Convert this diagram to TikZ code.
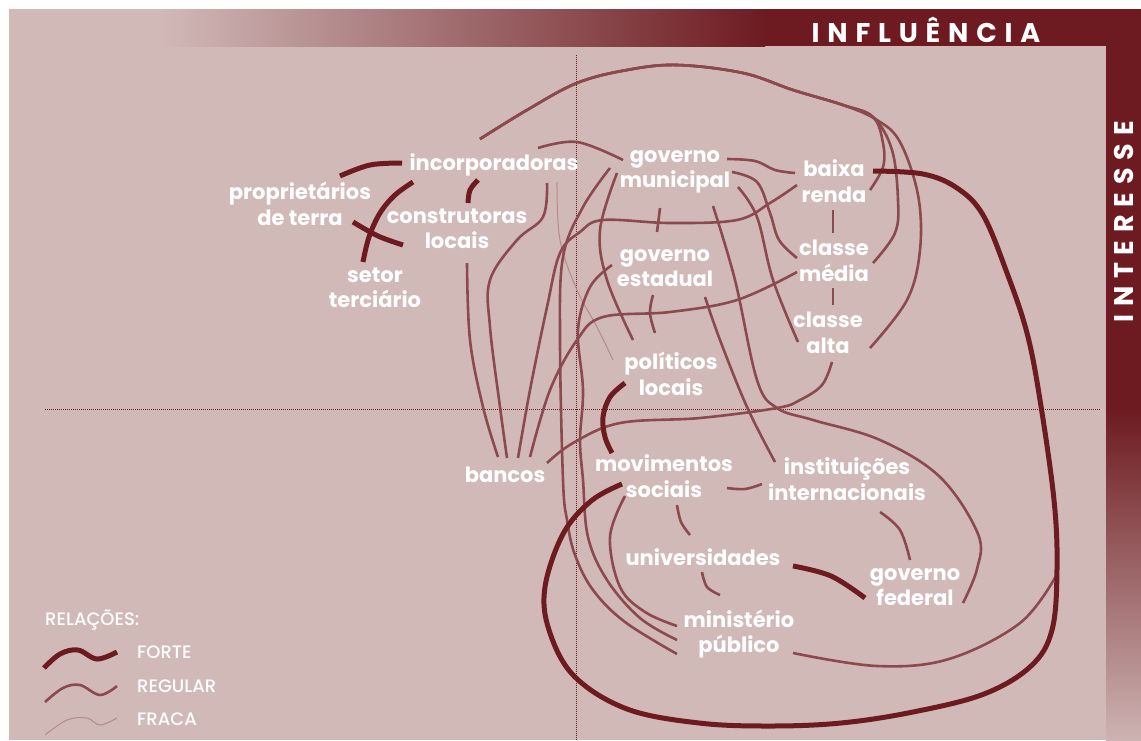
\documentclass[tikz,border=0pt]{standalone}
\usepackage{fontspec}
\setmainfont{Poppins}
\newfontfamily\legendfont{Poppins Medium}
\newfontfamily\axisfont{Poppins Bold}[LetterSpace=29]
\usetikzlibrary{calc}
\definecolor{panel}{HTML}{D1B9B8}
\definecolor{wine}{HTML}{6D1B21}
\definecolor{rose}{HTML}{8C4A4F}
\definecolor{faint}{HTML}{B48A8A}
\pgfdeclarelayer{bg}
\pgfdeclarelayer{links}
\pgfsetlayers{bg,links,main}
\tikzset{
  actor/.style={text=white, font=\fontsize{21}{25.5}\selectfont\bfseries, align=center, inner sep=0pt},
  legtext/.style={text=white, font=\legendfont\fontsize{18}{18}\selectfont, inner sep=0pt, anchor=west},
  axislabel/.style={text=white, font=\axisfont\fontsize{27}{27}\selectfont, inner sep=0pt},
  strong/.style={draw=wine, line width=5pt},
  regular/.style={draw=rose, line width=2.6pt},
  weak/.style={draw=faint, line width=1pt},
  guide/.style={draw=wine, line width=0.7pt, dash pattern=on 0.7pt off 1.3pt},
  sm/.style={smooth, tension=0.6}
}
\begin{document}
\begin{tikzpicture}[x=1pt, y=-1pt]
\useasboundingbox (0,0) rectangle (1141,740);

% frame, bars and guides
\begin{pgfonlayer}{bg}
  \fill[white] (0,0) rectangle (1141,740);
  \fill[panel] (9,9) rectangle (1141,740);
  \shade[left color=panel, right color=wine] (160,9) rectangle (765,46);
  \fill[wine] (764,9) rectangle (1141,46);
  \fill[wine] (1106,9) rectangle (1141,411);
  \shade[top color=wine, bottom color=panel!96!wine] (1106,410) rectangle (1141,740);
  \draw[guide] (576,55) -- (576,740);
  \draw[guide] (45,409) -- (1100,409);
\end{pgfonlayer}

\node[axislabel] (influencia) at (926,30) {INFLUÊNCIA};
\node[axislabel, rotate=90] (interesse) at (1124,222) {INTERESSE};

% actors
\node[actor] (inc) at (494,165) {incorporadoras};
\node[actor] (pro) at (300,204) {proprietários\\de terra};
\node[actor] (con) at (457,229) {construtoras\\locais};
\node[actor] (set) at (375,288) {setor\\terciário};
\node[actor] (gmu) at (675,172) {governo\\municipal};
\node[actor] (bai) at (834,181) {baixa\\renda};
\node[actor] (ges) at (665,268) {governo\\estadual};
\node[actor] (cme) at (834,261) {classe\\média};
\node[actor] (cal) at (828,333) {classe\\alta};
\node[actor] (pol) at (671,374) {políticos\\locais};
\node[actor] (ban) at (505,475) {bancos};
\node[actor] (mov) at (664,476) {movimentos\\sociais};
\node[actor] (ins) at (847,479) {instituições\\internacionais};
\node[actor] (uni) at (703,557) {universidades};
\node[actor] (gfe) at (915,587) {governo\\federal};
\node[actor] (mpu) at (739,634) {ministério\\público};

\coordinate (loopend) at (1056,576);

\begin{pgfonlayer}{links}
% weak relation
\draw[weak] plot[sm] coordinates {([shift={(63,17)}]inc.center) (560,240) (577,290) (597,327) ([shift={(-58,-14)}]pol.center)};

% regular relations
\draw[regular] plot[sm] coordinates {([shift={(-14,-26)}]inc.center) (527,110) (577,83) (627,70) (677,65) (743,73) (793,90) (843,105) (877,120) (900,142) (918,195) (920,250) (907,300) ([shift={(42,15)}]cal.center)};
\draw[regular] plot[sm] coordinates {([shift={(-14,-26)}]inc.center) (527,110) (577,83) (627,70) (677,65) (743,73) (793,90) (843,105) (873,117) (883,143) (883,167) ([shift={(36,9)}]bai.center)};
\draw[regular] plot[sm] coordinates {([shift={(-14,-26)}]inc.center) (527,110) (577,83) (627,70) (677,65) (743,73) (793,90) (843,105) (873,117) (892,150) (898,200) (895,233) ([shift={(39,2)}]cme.center)};
\draw[regular] plot[sm] coordinates {([shift={(44,-17)}]inc.center) (577,142) ([shift={(-52,-12)}]gmu.center)};
\draw[regular] plot[sm] coordinates {([shift={(52,-13)}]gmu.center) (755,161) (775,170) ([shift={(-39,-8)}]bai.center)};
\draw[regular] plot[sm] coordinates {([shift={(57,0)}]gmu.center) (757,182) (770,213) (779,240) ([shift={(-37,-3)}]cme.center)};
\draw[regular] plot[sm] coordinates {([shift={(63,15)}]gmu.center) (757,217) (773,280) ([shift={(-30,9)}]cal.center)};
\draw[regular] plot[sm] coordinates {([shift={(38,34)}]gmu.center) (735,280) (757,380) (777,408) (813,420) (880,440) (940,477) (978,534) (977,569) ([shift={(48,16)}]gfe.center)};
\draw[regular] plot[sm] coordinates {([shift={(40,29)}]ges.center) (720,340) (747,407) ([shift={(-72,-17)}]ins.center)};
\draw[regular] plot[sm] coordinates {([shift={(4,29)}]cal.center) (822,385) (800,400) (777,408) (700,418) (620,423) (573,443) ([shift={(42,-12)}]ban.center)};
\draw[regular] plot[sm] coordinates {([shift={(-37,11)}]cme.center) (737,300) (670,312) (603,317) (577,340) (550,390) ([shift={(25,-18)}]ban.center)};
\draw[regular] plot[sm] coordinates {([shift={(-37,4)}]bai.center) (770,203) (737,220) (670,223) (603,220) (580,232) (560,253) (547,307) (530,390) ([shift={(13,-17)}]ban.center)};
\draw[regular] ([shift={(-15,36)}]gmu.center) -- ([shift={(-8,-36)}]ges.center);
\draw[regular] ([shift={(-1,29)}]bai.center) -- ([shift={(-1,-28)}]cme.center);
\draw[regular] ([shift={(-1,27)}]cme.center) -- ([shift={(5,-28)}]cal.center);
\draw[regular] plot[sm] coordinates {([shift={(-12,27)}]ges.center) (650,313) ([shift={(-16,-41)}]pol.center)};
\draw[regular] plot[sm] coordinates {([shift={(-58,1)}]gmu.center) (600,230) (607,280) ([shift={(-38,-34)}]pol.center)};
\draw[regular] plot[sm] coordinates {([shift={(-65,-4)}]gmu.center) (583,207) (563,257) (560,340) (563,480) (567,520) (575,555) (593,590) (625,622) ([shift={(-62,20)}]mpu.center)};
\draw[regular] plot[sm] coordinates {([shift={(-53,-3)}]ges.center) (590,287) (578,330) (583,390) (580,440) (583,480) (588,537) (607,580) (640,618) ([shift={(-62,6)}]mpu.center)};
\draw[regular] plot[sm] coordinates {([shift={(-39,20)}]mov.center) (610,537) (620,587) (645,612) ([shift={(-62,-8)}]mpu.center)};
\draw[regular] plot[sm] coordinates {([shift={(10,34)}]con.center) (470,340) (483,407) ([shift={(-7,-18)}]ban.center)};
\draw[regular] plot[sm] coordinates {([shift={(53,18)}]inc.center) (543,217) (517,240) (490,280) (490,327) (500,407) ([shift={(2,-17)}]ban.center)};
\draw[regular] plot[sm] coordinates {([shift={(63,12)}]mov.center) (745,489) ([shift={(-85,5)}]ins.center)};
\draw[regular] plot[sm] coordinates {([shift={(13,29)}]mov.center) (681,522) ([shift={(-13,-22)}]uni.center)};
\draw[regular] plot[sm] coordinates {([shift={(-1,15)}]uni.center) (707,587) ([shift={(-19,-39)}]mpu.center)};
\draw[regular] plot[sm] coordinates {([shift={(33,33)}]ins.center) (900,530) ([shift={(-5,-27)}]gfe.center)};
\draw[regular] plot[sm] coordinates {([shift={(54,19)}]mpu.center) (877,666) (949,659) (1020,623) (loopend)};

% strong relations
\draw[strong] plot[sm] coordinates {([shift={(40,-28)}]pro.center) (370,165) ([shift={(-92,-2)}]inc.center)};
\draw[strong] plot[sm] coordinates {([shift={(-81,17)}]inc.center) (395,195) (380,213) (369,237) ([shift={(-12,-26)}]set.center)};
\draw[strong] plot[sm] coordinates {([shift={(53,18)}]pro.center) (378,236) ([shift={(-54,16)}]con.center)};
\draw[strong] plot[sm] coordinates {([shift={(-16,15)}]inc.center) (470,190) ([shift={(11,-26)}]con.center)};
\draw[strong] plot[sm] coordinates {([shift={(-46,9)}]pol.center) (610,397) (603,417) (605,437) ([shift={(-52,-23)}]mov.center)};
\draw[strong] plot[sm] coordinates {([shift={(-42,8)}]mov.center) (591,501) (563,534) (545,587) (549,630) (574,676) (627,709) (699,723) (770,726) (841,723) (913,712) (984,694) (1031,666) (1052,630) (1057,569) (1054,500) (1040,400) (1027,333) (1007,273) (983,215) (957,188) (923,174) ([shift={(39,-10)}]bai.center)};
\draw[strong] plot[sm] coordinates {([shift={(90,9)}]uni.center) (831,576) ([shift={(-50,11)}]gfe.center)};
\end{pgfonlayer}

% legend
\node[legtext] (legtitle) at (45,620) {RELAÇÕES:};
\node[legtext] (legforte) at (137,652) {FORTE};
\node[legtext] (legregular) at (137,686) {REGULAR};
\node[legtext] (legfraca) at (137,719) {FRACA};
\draw[strong] plot[sm] coordinates {(44,668) (60,654) (78,650) (97,659) (117,652)};
\draw[regular] plot[sm] coordinates {(45,702) (63,688) (80,685) (100,695) (117,686)};
\draw[weak] plot[sm] coordinates {(45,735) (67,720) (87,718) (100,725) (117,718)};
\end{tikzpicture}
\end{document}
